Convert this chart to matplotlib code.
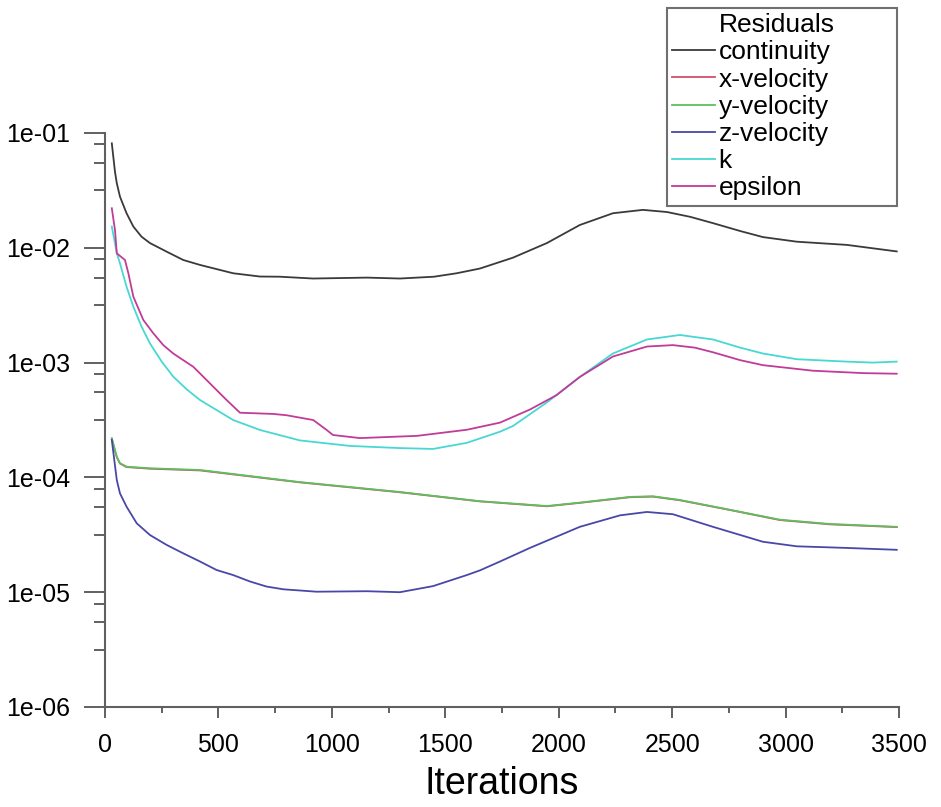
import matplotlib
matplotlib.use("Agg")
import matplotlib.pyplot as plt
from matplotlib.lines import Line2D
from matplotlib.ticker import FixedLocator, NullFormatter

plt.rcParams['font.family'] = ['Liberation Sans', 'DejaVu Sans']

# ---- data ----
cont_it = [30, 44, 52, 66, 95, 125, 161, 198, 272, 345, 419, 565, 683, 770, 917, 1155, 1300,
           1450, 1550, 1653, 1798, 1948, 2093, 2239, 2371, 2477, 2580, 2680, 2800, 2900, 3050,
           3270, 3490]
cont_v = [0.0813, 0.046, 0.0365, 0.0279, 0.0200, 0.0153, 0.0125, 0.0110, 0.00925, 0.00783,
          0.00709, 0.0060, 0.00562, 0.0056, 0.0054, 0.0055, 0.0054, 0.0056, 0.0060, 0.0066,
          0.0082, 0.011, 0.0158, 0.020, 0.0214, 0.0205, 0.0186, 0.0164, 0.0140, 0.0124, 0.0113,
          0.0106, 0.0093]

xvel_it = [30, 52, 66, 95, 200, 419, 859, 1300, 1653, 1741, 1948, 2093, 2314, 2415, 2534, 2755,
           2975, 3195, 3490]
xvel_v = [0.000215, 0.000150, 0.000132, 0.000123, 0.000119, 0.000115, 0.0000905, 0.0000742,
          0.0000618, 0.0000600, 0.0000560, 0.0000600, 0.0000672, 0.0000680, 0.0000632, 0.0000520,
          0.0000425, 0.0000390, 0.0000369]

yvel_it = [30, 52, 66, 95, 200, 419, 859, 1300, 1653, 1741, 1948, 2093, 2314, 2415, 2534, 2755,
           2975, 3195, 3490]
yvel_v = [0.00022, 0.000151, 0.000133, 0.000124, 0.000120, 0.000116, 0.000091, 0.0000746,
          0.000062, 0.0000603, 0.0000563, 0.0000603, 0.0000676, 0.0000685, 0.0000636, 0.0000522,
          0.0000428, 0.0000393, 0.0000371]

zvel_it = [30, 52, 66, 95, 140, 198, 272, 345, 419, 492, 565, 639, 712, 786, 933, 1155, 1300,
           1446, 1595, 1653, 1741, 1873, 2093, 2270, 2389, 2503, 2680, 2900, 3050, 3270, 3490]
zvel_v = [0.000212, 0.0000948, 0.0000726, 0.0000556, 0.0000398, 0.0000315, 0.0000258,
          0.0000218, 0.0000185, 0.0000156, 0.0000141, 0.0000124, 0.0000112, 0.0000106,
          0.0000101, 0.0000102, 0.0000100, 0.0000113, 0.0000141, 0.0000155, 0.0000185,
          0.0000243, 0.0000371, 0.0000467, 0.0000500, 0.0000478, 0.0000371, 0.0000275,
          0.0000251, 0.0000243, 0.0000234]

k_it = [30, 52, 66, 95, 125, 161, 198, 250, 301, 360, 419, 492, 565, 683, 859, 1080, 1300, 1446,
        1595, 1741, 1798, 1948, 2093, 2239, 2389, 2534, 2680, 2800, 2900, 3050, 3270, 3385, 3490]
k_v = [0.0153, 0.0090, 0.00733, 0.00458, 0.00307, 0.00206, 0.00147, 0.00102, 0.000754,
       0.000585, 0.000472, 0.000386, 0.000316, 0.000259, 0.00021, 0.000188, 0.00018, 0.000177,
       0.00020, 0.00025, 0.00028, 0.00045, 0.00075, 0.0012, 0.00159, 0.00174, 0.00159, 0.00135,
       0.0012, 0.00107, 0.00102, 0.00100, 0.00102]

eps_it = [30, 44, 52, 88, 103, 125, 169, 213, 257, 301, 345, 389, 433, 477, 536, 595, 742, 800,
          918, 977, 1005, 1124, 1250, 1375, 1595, 1741, 1873, 1990, 2093, 2239, 2389, 2503, 2600,
          2680, 2800, 2900, 3120, 3340, 3490]
eps_v = [0.0221, 0.0143, 0.00895, 0.00783, 0.0060, 0.00375, 0.00235, 0.0018, 0.00142, 0.0012,
         0.00105, 0.00092, 0.000754, 0.000617, 0.000472, 0.000366, 0.000357, 0.000348, 0.000316,
         0.000259, 0.000234, 0.00022, 0.000225, 0.00023, 0.00026, 0.00030, 0.00039, 0.00052,
         0.00075, 0.00113, 0.00138, 0.00142, 0.00135, 0.00123, 0.00105, 0.00095, 0.00085,
         0.00081, 0.00080]

labels = ["continuity", "x-velocity", "y-velocity", "z-velocity", "k", "epsilon"]
colors = ["#3a3a3a", "#d0506a", "#5cc05c", "#4848a8", "#48d8d4", "#c03c98"]

x_ticks = [0, 500, 1000, 1500, 2000, 2500, 3000, 3500]
y_ticks = [1e-6, 1e-5, 1e-4, 1e-3, 1e-2, 1e-1]
y_ticklabels = ["1e-06", "1e-05", "1e-04", "1e-03", "1e-02", "1e-01"]

# ---- figure ----
W, H = 941, 807
fig = plt.figure(figsize=(W / 100, H / 100), dpi=100)
ax = fig.add_axes([105 / W, 1 - 707 / H, (899 - 105) / W, (707 - 133) / H])

series = [(cont_it, cont_v), (xvel_it, xvel_v), (yvel_it, yvel_v), (zvel_it, zvel_v),
          (k_it, k_v), (eps_it, eps_v)]
lines = []
for (xs, ys), lab, c in zip(series, labels, colors):
    ln, = ax.plot(xs, ys, color=c, lw=1.3, label=lab)
    lines.append(ln)

ax.set_yscale('log')
ax.set_xlim(0, 3500)
ax.set_ylim(1e-6, 1e-1)

spine_col = "#606060"
for s in ['top', 'right']:
    ax.spines[s].set_visible(False)
for s in ['left', 'bottom']:
    ax.spines[s].set_color(spine_col)
    ax.spines[s].set_linewidth(1.5)

ax.set_xticks(x_ticks)
ax.set_xticklabels([str(t) for t in x_ticks])
ax.xaxis.set_minor_locator(FixedLocator([250 + 500 * i for i in range(7)]))
ax.set_yticks(y_ticks)
ax.set_yticklabels(y_ticklabels)
minors = []
for e in range(-6, -1):
    for m in (3.16, 5.5, 7.95):
        minors.append(m * 10.0 ** e)
ax.yaxis.set_minor_locator(FixedLocator(minors))
ax.yaxis.set_minor_formatter(NullFormatter())

ax.tick_params(axis='y', which='major', length=15, width=1.4, color=spine_col,
               labelsize=18, pad=10)
ax.tick_params(axis='y', which='minor', length=8, width=1.4, color=spine_col)
ax.tick_params(axis='x', which='major', length=8, width=1.4, color=spine_col,
               labelsize=18, pad=11)
ax.tick_params(axis='x', which='minor', length=4, width=1.4, color=spine_col)

ax.set_xlabel("Iterations", fontsize=27, labelpad=6)

# legend with title as a text-only row aligned with the labels
title_handle = Line2D([], [], linestyle='none')
leg = fig.legend([title_handle] + lines, ["Residuals"] + labels,
                 loc='upper left', bbox_to_anchor=(667 / W, 1 - 200 / H, 230 / W, 192 / H),
                 mode='expand', fontsize=19, frameon=True, fancybox=False, framealpha=1,
                 edgecolor="#707070", handlelength=1.6, handletextpad=0.15,
                 labelspacing=0.12, borderpad=0.2, borderaxespad=0)
leg.get_frame().set_linewidth(1.5)

fig.savefig("out.png", dpi=100, facecolor='white')
